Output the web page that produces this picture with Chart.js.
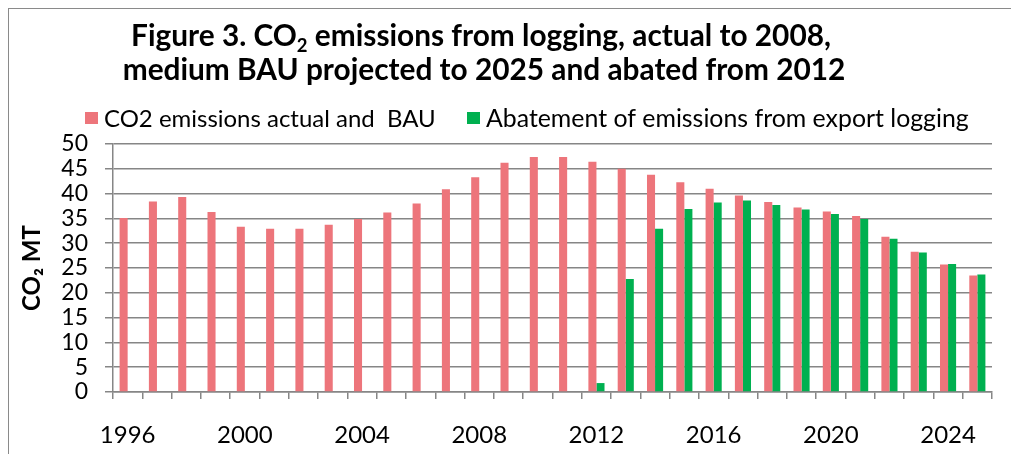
<!DOCTYPE html>
<html>
<head>
<meta charset="utf-8">
<script src="https://cdn.jsdelivr.net/npm/chart.js@4.4.1/dist/chart.umd.min.js"></script>
<style>
    html, body { margin: 0; padding: 0; background: #ffffff; }
    #chart { display: block; }
</style>
</head>
<body>
<canvas id="chart" width="1011" height="454"></canvas>
<script>
const years = ['1996', '1997', '1998', '1999', '2000', '2001', '2002', '2003', '2004', '2005',
    '2006', '2007', '2008', '2009', '2010', '2011', '2012', '2013', '2014', '2015',
    '2016', '2017', '2018', '2019', '2020', '2021', '2022', '2023', '2024', '2025'];

// CO2 emissions actual and BAU (MT)
const bauValues = [35.1, 38.4, 39.3, 36.3, 33.3, 32.9, 32.9, 33.7, 34.9, 36.2,
    38.0, 40.9, 43.3, 46.2, 47.4, 47.4, 46.4, 45.0, 43.8, 42.3,
    41.0, 39.6, 38.3, 37.2, 36.4, 35.5, 31.3, 28.3, 25.7, 23.5];

// Abatement of emissions from export logging (MT), starts 2012
const abatedValues = [null, null, null, null, null, null, null, null, null, null,
    null, null, null, null, null, null, 1.8, 22.8, 32.9, 36.9,
    38.2, 38.6, 37.7, 36.8, 35.9, 34.9, 30.9, 28.1, 25.8, 23.7];

const seriesNames = ['CO2 emissions actual and  BAU', 'Abatement of emissions from export logging'];
const seriesColors = ['#ED757B', '#00B050'];

const FONT = 'Lato, "Open Sans", sans-serif';
const GRID = '#868686';

// pick a font size so that text spans the wanted width
function fitSize(ctx, text, weight, width) {
    ctx.font = weight + ' 100px ' + FONT;
    return 100 * width / ctx.measureText(text).width;
}

// frame, two-line title with subscript, and the legend row
const decorPlugin = {
    id: 'decor',
    beforeDraw(chart) {
        const ctx = chart.ctx;
        ctx.save();
        ctx.strokeStyle = '#8a8a8a';
        ctx.lineWidth = 1;
        ctx.strokeRect(8.5, 8.5, chart.width, chart.height);
        ctx.restore();
    },
    afterDraw(chart) {
        const ctx = chart.ctx;
        ctx.save();
        ctx.fillStyle = '#000';
        ctx.textBaseline = 'alphabetic';

        const line2 = 'medium BAU projected to 2025 and abated from 2012';
        const size = fitSize(ctx, line2, 'bold', 723);
        const big = 'bold ' + size + 'px ' + FONT;
        const small = 'bold ' + (size * 0.62) + 'px ' + FONT;

        // title line 1: "CO" + subscript 2
        const a = 'Figure 3. CO', b = '2', c = ' emissions from logging, actual to 2008,';
        ctx.font = big;
        const wa = ctx.measureText(a).width, wc = ctx.measureText(c).width;
        ctx.font = small;
        const wb = ctx.measureText(b).width;
        let x = 481 - (wa + wb + wc) / 2;
        ctx.font = big;
        ctx.fillText(a, x, 46);
        x += wa;
        ctx.font = small;
        ctx.fillText(b, x, 52);
        x += wb;
        ctx.font = big;
        ctx.fillText(c, x, 46);

        ctx.textAlign = 'center';
        ctx.font = big;
        ctx.fillText(line2, 484, 80);

        // legend: box + label, each label spanning its own width
        ctx.textAlign = 'left';
        ctx.textBaseline = 'middle';
        const boxX = [85, 467];
        const textW = [332, 483];
        chart.data.datasets.forEach((ds, i) => {
            ctx.fillStyle = ds.backgroundColor;
            ctx.fillRect(boxX[i], 112, 13, 12);
            const ls = fitSize(ctx, ds.label, 'normal', textW[i]);
            ctx.font = ls + 'px ' + FONT;
            ctx.fillStyle = '#000';
            ctx.fillText(ds.label, boxX[i] + 19, 119);
        });
        ctx.restore();
    }
};

new Chart(document.getElementById('chart'), {
    type: 'bar',
    data: {
        labels: years,
        datasets: [
            { label: seriesNames[0], data: bauValues, backgroundColor: seriesColors[0] },
            { label: seriesNames[1], data: abatedValues, backgroundColor: seriesColors[1] }
        ]
    },
    options: {
        responsive: false,
        animation: false,
        devicePixelRatio: 1,
        layout: { padding: { top: 144, right: 19, bottom: 0, left: 0 } },
        datasets: { bar: { categoryPercentage: 0.55, barPercentage: 1.0 } },
        plugins: {
            legend: { display: false },
            title: { display: false },
            tooltip: { enabled: false }
        },
        scales: {
            x: {
                afterFit: (scale) => { scale.height = 62; },
                grid: { offset: true, drawOnChartArea: false, drawTicks: true, tickLength: 7, color: GRID, lineWidth: 1.5 },
                border: { color: GRID, width: 1.5 },
                ticks: {
                    autoSkip: false,
                    maxRotation: 0,
                    padding: 22,
                    color: '#000',
                    font: { family: FONT, size: 24 },
                    callback: (val, idx) => (idx % 4 === 0 ? years[idx] : '')
                }
            },
            y: {
                min: 0,
                max: 50,
                afterFit: (scale) => { scale.width = 113; },
                grid: { color: GRID, lineWidth: 1.5, tickLength: 8 },
                border: { color: GRID, width: 1.5 },
                ticks: {
                    stepSize: 5,
                    autoSkip: false,
                    padding: 17,
                    color: '#000',
                    font: { family: FONT, size: 23 }
                },
                title: {
                    display: true,
                    text: 'CO₂ MT',
                    color: '#000',
                    font: { family: FONT, size: 24, weight: 'bold' },
                    padding: { top: 18 }
                }
            }
        }
    },
    plugins: [decorPlugin]
});
</script>
</body>
</html>
